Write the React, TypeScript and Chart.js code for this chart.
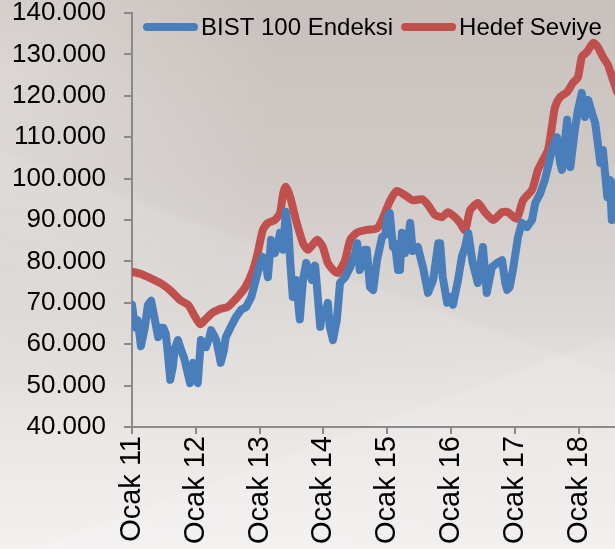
import React, { useEffect, useRef } from 'react';
import { Chart, registerables } from 'chart.js';

Chart.register(...registerables);

const SERIES_NAMES = ['BIST 100 Endeksi', 'Hedef Seviye'];
const SERIES_COLORS = ['#4a7ebb', '#c0504d'];
const TICK_YEARS = [2011, 2012, 2013, 2014, 2015, 2016, 2017, 2018];
const TICK_LABELS = ['Ocak 11', 'Ocak 12', 'Ocak 13', 'Ocak 14', 'Ocak 15', 'Ocak 16', 'Ocak 17', 'Ocak 18'];
const Y_MIN = 40000;
const Y_MAX = 140000;
const Y_STEP = 10000;
const X_MIN = 2011;
const X_MAX = 2018.57;

const BIST_DATES = [
  2011.00, 2011.03, 2011.06, 2011.09, 2011.14, 2011.20, 2011.25, 2011.30, 2011.36, 2011.41,
  2011.45, 2011.49, 2011.53, 2011.56, 2011.60, 2011.64, 2011.67, 2011.72, 2011.77, 2011.82,
  2011.85, 2011.91, 2011.96, 2012.00, 2012.03, 2012.08, 2012.13, 2012.16, 2012.21, 2012.24,
  2012.29, 2012.32, 2012.36, 2012.39, 2012.44, 2012.47, 2012.55, 2012.63, 2012.71, 2012.79,
  2012.87, 2012.94, 2013.01, 2013.05, 2013.10, 2013.13, 2013.18, 2013.24, 2013.29, 2013.32,
  2013.37, 2013.41, 2013.45, 2013.48, 2013.52, 2013.57, 2013.63, 2013.68, 2013.73, 2013.77,
  2013.82, 2013.87, 2013.90, 2013.95, 2013.99, 2014.03, 2014.07, 2014.10, 2014.15, 2014.21,
  2014.26, 2014.34, 2014.42, 2014.50, 2014.53, 2014.57, 2014.61, 2014.65, 2014.68, 2014.73,
  2014.78, 2014.84, 2014.92, 2014.97, 2015.00, 2015.04, 2015.09, 2015.12, 2015.17, 2015.20,
  2015.23, 2015.28, 2015.31, 2015.36, 2015.40, 2015.48, 2015.56, 2015.64, 2015.72, 2015.80,
  2015.83, 2015.87, 2015.94, 2015.98, 2016.03, 2016.11, 2016.17, 2016.22, 2016.27, 2016.34,
  2016.42, 2016.50, 2016.56, 2016.64, 2016.72, 2016.80, 2016.85, 2016.88, 2016.92, 2016.97,
  2017.05, 2017.11, 2017.19, 2017.27, 2017.32, 2017.40, 2017.47, 2017.52, 2017.58, 2017.66,
  2017.71, 2017.74, 2017.82, 2017.87, 2017.94, 2017.99, 2018.05, 2018.10, 2018.15, 2018.21,
  2018.26, 2018.30, 2018.34, 2018.38, 2018.45, 2018.49, 2018.52, 2018.57, 2018.62,
];
const BIST_VALUES = [
  69500, 66000, 64000, 65800, 59500, 64000, 69500, 70500, 65800, 61700,
  64000, 64000, 62500, 58000, 51400, 54500, 59000, 61000, 58600, 56500,
  54500, 50600, 55500, 52000, 50600, 61000, 60000, 59300, 61500, 63400,
  62000, 61000, 58000, 55500, 58500, 61700, 64200, 66600, 68300, 69000,
  71400, 75500, 79600, 81100, 79000, 76200, 85200, 82000, 84500, 86900,
  82800, 92000, 88000, 80000, 71400, 75500, 66000, 75500, 79600, 78000,
  75500, 79000, 73800, 64200, 68300, 67500, 70000, 64200, 61000, 65800,
  74800, 76200, 78600, 82000, 84400, 77900, 79600, 82800, 82800, 73800,
  73100, 80300, 85900, 86500, 90700, 91700, 83500, 84400, 77900, 77900,
  86900, 82000, 83500, 89300, 82500, 83500, 78600, 72400, 75500, 84400,
  84400, 76200, 70000, 71400, 69500, 75500, 81100, 83500, 86900, 79600,
  74800, 83500, 72400, 78600, 79600, 80300, 74800, 73100, 73800, 77900,
  85900, 89300, 88300, 90000, 94100, 96500, 99700, 102800, 106900, 110000,
  103800, 102100, 114200, 102800, 111700, 116600, 120700, 114900, 119000, 115800,
  113400, 108600, 103800, 106900, 95500, 99700, 90000, 98900, 97000,
];

const HEDEF_DATES = [
  2011.00, 2011.13, 2011.28, 2011.44, 2011.60, 2011.75, 2011.88, 2011.99, 2012.07, 2012.14,
  2012.25, 2012.38, 2012.50, 2012.57, 2012.66, 2012.77, 2012.88, 2012.97, 2013.05, 2013.13,
  2013.24, 2013.32, 2013.37, 2013.41, 2013.48, 2013.57, 2013.68, 2013.76, 2013.90, 2013.99,
  2014.07, 2014.18, 2014.23, 2014.34, 2014.42, 2014.53, 2014.68, 2014.84, 2014.92, 2015.04,
  2015.15, 2015.28, 2015.40, 2015.55, 2015.64, 2015.75, 2015.86, 2015.95, 2016.06, 2016.14,
  2016.22, 2016.30, 2016.42, 2016.53, 2016.66, 2016.80, 2016.89, 2017.03, 2017.13, 2017.27,
  2017.36, 2017.44, 2017.52, 2017.58, 2017.63, 2017.71, 2017.82, 2017.91, 2017.99, 2018.05,
  2018.13, 2018.23, 2018.30, 2018.38, 2018.46, 2018.54, 2018.60,
];
const HEDEF_VALUES = [
  77500, 77000, 76000, 74800, 73000, 70700, 69500, 66600, 64800, 65800,
  67500, 68500, 69000, 70000, 71500, 73600, 77200, 82000, 87600, 89300,
  90000, 91700, 96500, 98000, 95500, 90000, 84400, 82800, 85200, 83500,
  79600, 77500, 77200, 80300, 85200, 87000, 87600, 88000, 90000, 94500,
  97000, 96000, 94800, 95000, 93600, 91200, 90700, 91900, 90700, 89300,
  87500, 92400, 94100, 91900, 90000, 91900, 91900, 90300, 94800, 97300,
  102000, 104500, 106900, 112500, 117300, 119700, 120900, 123100, 124500, 129400,
  130600, 132800, 131800, 129400, 127400, 123800, 121000,
];

const FONT = '"Liberation Sans", Arial, sans-serif';

function formatTR(v: number): string {
  return String(Math.round(v)).replace(/\B(?=(\d{3})+(?!\d))/g, '.');
}

const insideLegend = {
  id: 'insideLegend',
  afterDatasetsDraw(chart: any) {
    const { ctx, chartArea } = chart;
    ctx.save();
    ctx.font = `24px ${FONT}`;
    ctx.textBaseline = 'middle';
    ctx.textAlign = 'left';
    let x = chartArea.left + 11;
    const y = chartArea.top + 14;
    chart.data.datasets.forEach((ds: any) => {
      ctx.strokeStyle = ds.borderColor;
      ctx.lineWidth = 8;
      ctx.lineCap = 'round';
      ctx.beginPath();
      ctx.moveTo(x + 4, y);
      ctx.lineTo(x + 51, y);
      ctx.stroke();
      x += 58;
      ctx.fillStyle = '#000000';
      ctx.fillText(ds.label, x, y + 1);
      x += ctx.measureText(ds.label).width + 8;
    });
    ctx.restore();
  },
};

export default function App() {
  const canvasRef = useRef<HTMLCanvasElement | null>(null);

  useEffect(() => {
    if (!canvasRef.current) return;
    const bist = BIST_DATES.map((d, i) => ({ x: d, y: BIST_VALUES[i] }));
    const hedef = HEDEF_DATES.map((d, i) => ({ x: d, y: HEDEF_VALUES[i] }));
    const axisColor = '#8a8a8a';
    const chart = new Chart(canvasRef.current, {
      type: 'line',
      data: {
        datasets: [
          {
            label: SERIES_NAMES[0],
            data: bist,
            borderColor: SERIES_COLORS[0],
            backgroundColor: SERIES_COLORS[0],
            borderWidth: 8,
            borderCapStyle: 'round',
            borderJoinStyle: 'round',
            pointRadius: 0,
            tension: 0,
          },
          {
            label: SERIES_NAMES[1],
            data: hedef,
            borderColor: SERIES_COLORS[1],
            backgroundColor: SERIES_COLORS[1],
            borderWidth: 8,
            borderCapStyle: 'round',
            borderJoinStyle: 'round',
            pointRadius: 0,
            tension: 0.2,
          },
        ],
      },
      options: {
        animation: false,
        responsive: false,
        events: [],
        layout: { padding: { top: 13, left: 0, right: 0, bottom: 0 } },
        plugins: {
          legend: { display: false },
          tooltip: { enabled: false },
        },
        scales: {
          x: {
            type: 'linear',
            min: X_MIN,
            max: X_MAX,
            afterBuildTicks: (scale: any) => {
              scale.ticks = TICK_YEARS.map((v) => ({ value: v }));
            },
            afterFit: (scale: any) => {
              scale.height = 122;
              scale.paddingTop = 0;
              scale.paddingBottom = 0;
            },
            grid: {
              display: true,
              drawOnChartArea: false,
              drawTicks: true,
              tickLength: 7,
              color: axisColor,
              lineWidth: 2,
            },
            border: { display: true, color: axisColor, width: 2 },
            ticks: {
              autoSkip: false,
              maxRotation: 90,
              minRotation: 90,
              padding: 2,
              color: '#000000',
              font: { family: FONT, size: 29, lineHeight: 1 },
              callback: (value: any) => {
                const idx = TICK_YEARS.indexOf(Math.round(Number(value)));
                return idx >= 0 ? TICK_LABELS[idx] : '';
              },
            },
          },
          y: {
            type: 'linear',
            min: Y_MIN,
            max: Y_MAX,
            afterFit: (scale: any) => {
              scale.width = 132;
              scale.paddingTop = 0;
              scale.paddingBottom = 0;
            },
            grid: {
              display: true,
              drawOnChartArea: false,
              drawTicks: true,
              tickLength: 8,
              color: axisColor,
              lineWidth: 2,
            },
            border: { display: true, color: axisColor, width: 2 },
            ticks: {
              stepSize: Y_STEP,
              padding: 18,
              color: '#000000',
              font: { family: FONT, size: 26, lineHeight: 1 },
              callback: (value: any) => formatTR(Number(value)),
            },
          },
        },
      },
      plugins: [insideLegend],
    });
    return () => chart.destroy();
  }, []);

  const bg = [
    'radial-gradient(ellipse 45% 55% at 0% 15%, rgba(255,255,255,0.32) 0%, rgba(255,255,255,0) 100%)',
    'linear-gradient(200deg, rgba(255,255,255,0) 48%, rgba(255,255,255,0.10) 49%, rgba(255,255,255,0) 70%)',
    'linear-gradient(160deg, rgba(255,255,255,0) 72%, rgba(255,255,255,0.12) 73%, rgba(255,255,255,0) 92%)',
    'linear-gradient(180deg, #c8c0bc 0%, #cfc9c6 30%, #dad6d3 55%, #e9e6e4 78%, #f3f1f0 100%)',
  ].join(', ');

  return (
    <div
      style={{
        position: 'fixed',
        left: 0,
        top: 0,
        width: 615,
        height: 549,
        background: bg,
        overflow: 'hidden',
      }}
    >
      <canvas ref={canvasRef} width={615} height={549} style={{ display: 'block' }} />
    </div>
  );
}
